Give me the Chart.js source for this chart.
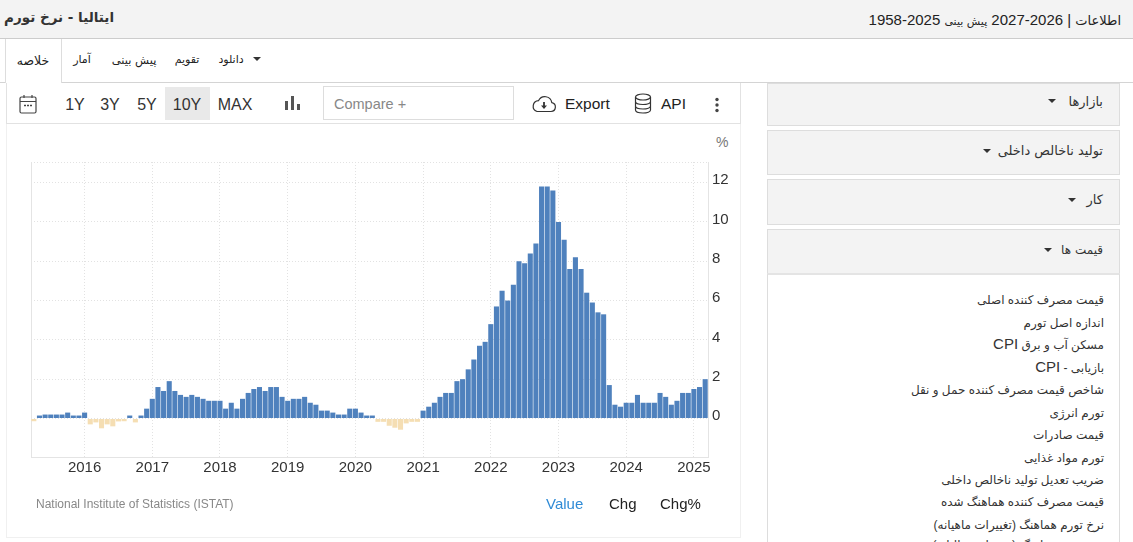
<!DOCTYPE html>
<html lang="fa">
<head>
<meta charset="utf-8">
<title>ایتالیا - نرخ تورم</title>
<script src="https://cdn.jsdelivr.net/npm/chart.js@4"></script>
<style>
  html, body { margin:0; padding:0; background:#fff; overflow:hidden; width:1133px; height:542px; }
  body { position:relative; font-family:"Liberation Sans","DejaVu Sans",sans-serif; color:#222; }
  .abs { position:absolute; white-space:nowrap; }
  .fa  { font-family:"DejaVu Sans",sans-serif; direction:rtl; }

  /* header + tabs */
  #head { position:absolute; left:0; top:0; width:1133px; height:38px; background:#f3f3f3; border-bottom:1px solid #ccc; }
  #tabline { position:absolute; left:0; top:82px; width:1133px; height:1px; background:#d4d4d4; }
  #tabActive { position:absolute; left:5px; top:39px; width:55px; height:44px; background:#fff; border-left:1px solid #ddd; border-right:1px solid #ddd; z-index:2; }
  .tab { font-size:11px; top:53px; transform:translateX(-50%); z-index:3; }
  .caret { position:absolute; width:0; height:0; border-left:4px solid transparent; border-right:4px solid transparent; border-top:4px solid #333; }

  /* toolbar */
  #panel { position:absolute; left:6px; top:124px; width:733px; height:413px; border:1px solid #f0f0f0; border-top:none; }
  #toolbar { position:absolute; left:6px; top:83px; width:733px; height:40px; border-left:1px solid #e2e2e2; border-right:1px solid #e2e2e2; border-bottom:1px solid #e2e2e2; }
  .rng { font-size:16px; top:96px; transform:translateX(-50%); color:#333; }
  #rngOn { position:absolute; left:165px; top:87px; width:45px; height:33px; background:#e9e9e9; }
  #compare { position:absolute; left:323px; top:86px; width:189px; height:32px; border:1px solid #ddd; }
  #cmpText { left:334px; top:96px; font-size:14.5px; color:#888; }

  /* chart */
  #wrap { position:absolute; left:6px; top:124px; width:733px; height:376px; }

  /* sidebar */
  .side { position:absolute; left:767px; width:351px; background:#f3f3f3; border:1px solid #ddd; }
  .sideT { font-size:13px; right:30px; color:#333; }
  #listBox { position:absolute; left:767px; top:273px; height:269px; border-left:1px solid #ddd; border-right:1px solid #ddd; border-top:2px solid #e4e4e4; box-sizing:border-box; width:353px; overflow:hidden; }
  #listBox div { position:absolute; right:15px; font-size:12px; white-space:nowrap; direction:rtl; color:#333; }
  .lat { font-family:"Liberation Sans",sans-serif; font-size:15px; }
</style>
</head>
<body>

<div id="head"></div>
<div class="abs fa" style="left:4px;top:9px;font-size:13.5px;font-weight:bold;color:#333">ایتالیا - نرخ تورم</div>
<div class="abs fa" style="right:12px;top:11px;font-size:13px;color:#222">اطلاعات <span class="lat">| 2026-2027</span> <span style="font-size:11px">پیش بینی</span> <span class="lat">2025-1958</span></div>

<div id="tabline"></div>
<div id="tabActive"></div>
<div class="abs fa tab" style="left:33px;font-size:12.5px">خلاصه</div>
<div class="abs fa tab" style="left:82px">آمار</div>
<div class="abs fa tab" style="left:134px;font-size:11.5px">پیش بینی</div>
<div class="abs fa tab" style="left:187px">تقویم</div>
<div class="abs fa tab" style="left:231px">دانلود</div>
<div class="caret" style="left:253px;top:57px"></div>

<div id="toolbar"></div>
<div id="panel"></div>
<svg class="abs" style="left:19px;top:94px" width="18" height="20" viewBox="0 0 18 20" fill="none" stroke="#444" stroke-width="1.2">
  <rect x="1" y="3" width="16" height="16" rx="1.5"/><path d="M1 7.5h16M5 1v3M13 1v3"/>
  <path d="M5 11.5h2M8 11.5h2M11 11.5h2" stroke-width="1.4"/>
</svg>
<div id="rngOn"></div>
<div class="abs rng" style="left:75px">1Y</div>
<div class="abs rng" style="left:110px">3Y</div>
<div class="abs rng" style="left:147px">5Y</div>
<div class="abs rng" style="left:187px">10Y</div>
<div class="abs rng" style="left:235px">MAX</div>
<svg class="abs" style="left:284px;top:95px" width="16" height="16" viewBox="0 0 16 16" fill="#555">
  <rect x="1" y="6" width="3" height="9"/><rect x="7" y="1" width="3" height="14"/><rect x="13" y="9" width="3" height="6"/>
</svg>
<div id="compare"></div>
<div class="abs" id="cmpText">Compare +</div>
<svg class="abs" style="left:531px;top:94px" width="26" height="20" viewBox="0 0 26 20" fill="none" stroke="#333" stroke-width="1.2">
  <path d="M6 17.5h14a4.5 4.5 0 0 0 .8-8.9A7 7 0 0 0 7.6 6.6 5.6 5.6 0 0 0 6 17.5z"/>
  <path d="M13 8v5" stroke-width="1.8"/><path d="M10 11.5l3 3.5 3-3.5z" fill="#333" stroke="none"/>
</svg>
<div class="abs" style="left:565px;top:95px;font-size:15.5px;color:#222">Export</div>
<svg class="abs" style="left:634px;top:93px" width="18" height="21" viewBox="0 0 18 21" fill="none" stroke="#333" stroke-width="1.2">
  <ellipse cx="9" cy="4" rx="7.5" ry="3"/><path d="M1.5 4v13c0 1.7 3.4 3 7.5 3s7.500-1.300 7.500-3V4M1.500 8.500c0 1.700 3.400 3 7.500 3s7.500-1.300 7.500-3M1.500 13c0 1.700 3.400 3 7.500 3s7.500-1.300 7.500-3"/>
</svg>
<div class="abs" style="left:661px;top:95px;font-size:15.5px;color:#222">API</div>
<svg class="abs" style="left:714px;top:97px" width="6" height="16" viewBox="0 0 6 16" fill="#444">
  <circle cx="3" cy="2.500" r="1.700"/><circle cx="3" cy="8" r="1.700"/><circle cx="3" cy="13.500" r="1.700"/>
</svg>

<div class="abs" style="left:716px;top:134px;font-size:14px;color:#777">%</div>
<div id="wrap"><canvas id="inflationChart" width="733" height="376"></canvas></div>

<div class="abs" style="left:36px;top:497px;font-size:12px;color:#888">National Institute of Statistics (ISTAT)</div>
<div class="abs" style="left:546px;top:495px;font-size:15px;color:#2f8bd6">Value</div>
<div class="abs" style="left:609px;top:495px;font-size:15px;color:#222">Chg</div>
<div class="abs" style="left:660px;top:495px;font-size:15px;color:#222">Chg%</div>

<div class="side" style="top:83px;height:41px"></div>
<div class="abs fa sideT" style="top:94px">بازارها</div>
<div class="caret" style="left:1048px;top:99px"></div>
<div class="side" style="top:130px;height:43px"></div>
<div class="abs fa sideT" style="top:143px">تولید ناخالص داخلی</div>
<div class="caret" style="left:983px;top:149px"></div>
<div class="side" style="top:179px;height:44px"></div>
<div class="abs fa sideT" style="top:192px">کار</div>
<div class="caret" style="left:1068px;top:198px"></div>
<div class="side" style="top:229px;height:44px"></div>
<div class="abs fa sideT" style="top:243px;font-size:12px">قیمت ها</div>
<div class="caret" style="left:1044px;top:248px"></div>

<div id="listBox">
  <div style="top:18px">قیمت مصرف کننده اصلی</div>
  <div style="top:41px">اندازه اصل تورم</div>
  <div style="top:60px">مسکن آب و برق <span class="lat">CPI</span></div>
  <div style="top:83px">بازیابی - <span class="lat">CPI</span></div>
  <div style="top:108px">شاخص قیمت مصرف کننده حمل و نقل</div>
  <div style="top:131px">تورم انرژی</div>
  <div style="top:153px">قیمت صادرات</div>
  <div style="top:176px">تورم مواد غذایی</div>
  <div style="top:198px">ضریب تعدیل تولید ناخالص داخلی</div>
  <div style="top:220px">قیمت مصرف کننده هماهنگ شده</div>
  <div style="top:243px">نرخ تورم هماهنگ (تغییرات ماهیانه)</div>
  <div style="top:263px">نرخ تورم هماهنگ (تغییرات سالیانه)</div>
</div>

<script>
// ── DATA ──
const months = [
  '2015-04','2015-05','2015-06','2015-07','2015-08','2015-09','2015-10','2015-11','2015-12',
  '2016-01','2016-02','2016-03','2016-04','2016-05','2016-06','2016-07','2016-08','2016-09','2016-10','2016-11','2016-12',
  '2017-01','2017-02','2017-03','2017-04','2017-05','2017-06','2017-07','2017-08','2017-09','2017-10','2017-11','2017-12',
  '2018-01','2018-02','2018-03','2018-04','2018-05','2018-06','2018-07','2018-08','2018-09','2018-10','2018-11','2018-12',
  '2019-01','2019-02','2019-03','2019-04','2019-05','2019-06','2019-07','2019-08','2019-09','2019-10','2019-11','2019-12',
  '2020-01','2020-02','2020-03','2020-04','2020-05','2020-06','2020-07','2020-08','2020-09','2020-10','2020-11','2020-12',
  '2021-01','2021-02','2021-03','2021-04','2021-05','2021-06','2021-07','2021-08','2021-09','2021-10','2021-11','2021-12',
  '2022-01','2022-02','2022-03','2022-04','2022-05','2022-06','2022-07','2022-08','2022-09','2022-10','2022-11','2022-12',
  '2023-01','2023-02','2023-03','2023-04','2023-05','2023-06','2023-07','2023-08','2023-09','2023-10','2023-11','2023-12',
  '2024-01','2024-02','2024-03','2024-04','2024-05','2024-06','2024-07','2024-08','2024-09','2024-10','2024-11','2024-12',
  '2025-01','2025-02','2025-03'
];

const inflation = [
  -0.14,0.15,0.2,0.2,0.2,0.2,0.3,0.15,0.15,
  0.3,-0.3,-0.2,-0.5,-0.3,-0.4,-0.15,-0.14,0.15,-0.2,0.15,0.5,
  1.0,1.6,1.4,1.9,1.4,1.2,1.1,1.2,1.1,1.0,0.9,0.9,
  0.9,0.5,0.8,0.5,1.0,1.3,1.5,1.6,1.4,1.6,1.6,1.1,
  0.9,1.0,1.0,1.1,0.8,0.7,0.4,0.4,0.3,0.2,0.2,0.5,
  0.5,0.3,0.15,0.15,-0.17,-0.17,-0.37,-0.47,-0.57,-0.25,-0.17,-0.17,
  0.4,0.6,0.8,1.1,1.3,1.3,1.9,2.0,2.5,3.0,3.7,3.9,
  4.8,5.7,6.5,6.0,6.8,8.0,7.9,8.4,8.9,11.8,11.8,11.6,
  10.0,9.1,7.6,8.2,7.6,6.4,5.9,5.4,5.3,1.7,0.7,0.6,
  0.8,0.8,1.2,0.8,0.8,0.8,1.3,1.1,0.7,0.9,1.3,1.3,
  1.5,1.6,2.0
];

const yTicks = [0,2,4,6,8,10,12];
const yMin = -1.96;
const yMax = 13.05;

const POS_COLOR = '#4f81bd';
const NEG_COLOR = '#f5deb3';
const GRID = '#e2e2e2';
const AXIS = '#e4e4e4';
const FONT = { family:'"Liberation Sans", sans-serif', size:15 };

// left edge of the plot frame
const leftEdge = {
  id: 'leftEdge',
  beforeDatasetsDraw(chart) {
    const { ctx, chartArea: a } = chart;
    ctx.save();
    ctx.strokeStyle = AXIS;
    ctx.lineWidth = 1;
    ctx.beginPath();
    ctx.moveTo(a.left + 0.5, a.top);
    ctx.lineTo(a.left + 0.5, a.bottom);
    ctx.stroke();
    ctx.restore();
  }
};

new Chart(document.getElementById('inflationChart'), {
  type: 'bar',
  plugins: [leftEdge],
  data: {
    labels: months,
    datasets: [{
      data: inflation,
      backgroundColor: inflation.map(v => v < 0 ? NEG_COLOR : POS_COLOR),
      borderWidth: 0,
      categoryPercentage: 1,
      barPercentage: 0.9
    }]
  },
  options: {
    responsive: false,
    animation: false,
    events: [],
    layout: { padding: { left: 25, top: 38, right: 0, bottom: 0 } },
    plugins: { legend: { display: false }, tooltip: { enabled: false } },
    scales: {
      x: {
        offset: true,
        afterBuildTicks: s => { s.ticks = s.ticks.filter(t => months[t.value].endsWith('-01')); },
        afterFit: s => { s.height = 43; },
        grid: { offset: false, color: GRID, drawTicks: false },
        border: { display: true, color: AXIS, dash: [1, 2] },
        ticks: {
          autoSkip: false, maxRotation: 0, minRotation: 0,
          padding: 2, color: '#333', font: FONT,
          callback(v) { return months[v].slice(0, 4); }
        }
      },
      y: {
        position: 'right',
        min: yMin,
        max: yMax,
        afterBuildTicks: s => { s.ticks = [...yTicks, yMax].map(value => ({ value })); },
        afterFit: s => { s.width = 31; },
        grid: { color: GRID, drawTicks: false },
        border: { display: true, color: AXIS, dash: [1, 2] },
        ticks: {
          padding: 4, color: '#333', font: FONT, labelOffset: -2.5,
          callback(v) { return yTicks.includes(v) ? String(v) : ''; }
        }
      }
    }
  }
});
</script>
</body>
</html>
